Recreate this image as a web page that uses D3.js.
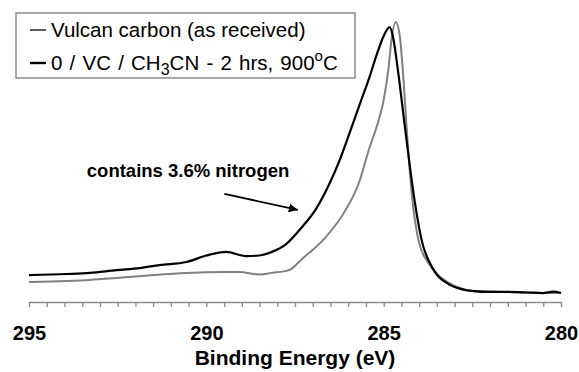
<!DOCTYPE html>
<html>
<head>
<meta charset="utf-8">
<script src="https://cdn.jsdelivr.net/npm/d3@7"></script>
<style>
  body { margin: 0; background: #fff; }
  svg { display: block; font-family: "Liberation Sans", Arial, sans-serif; }
</style>
</head>
<body>
<div id="chart"></div>
<script>
// Binding energy (eV) / intensity (a.u.)
const vcEnergy = [295.0, 293.93, 293.28, 292.53, 291.8, 290.56, 289.44, 289.07, 288.51, 288.15, 287.67, 287.3,
  286.63, 286.07, 285.7, 285.42, 285.14, 285.0, 284.86, 284.78, 284.66, 284.55, 284.44, 284.33, 284.19,
  284.02, 283.74, 283.46, 283.17, 282.75, 282.33, 281.5, 280.5, 280.0];
const vcIntensity = [7.1, 7.5, 7.9, 8.6, 9.3, 10.4, 10.7, 10.7, 9.8, 10.4, 11.4, 15.4,
  23.2, 32.9, 42.5, 54.3, 65.0, 72.1, 83.9, 93.6, 100, 95.4, 79.3, 57.9, 36.4,
  22.1, 13.9, 9.6, 6.8, 4.6, 3.9, 3.6, 3.2, 3.2];

const nEnergy = [295.0, 293.93, 293.28, 292.53, 291.88, 291.32, 290.56, 290.0, 289.44, 288.88, 288.51, 288.15,
  287.75, 287.3, 286.91, 286.52, 286.24, 285.96, 285.68, 285.39, 285.17, 285.0, 284.83, 284.73, 284.61,
  284.38, 284.13, 283.93, 283.62, 283.17, 282.81, 282.47, 282.05, 281.49, 280.93, 280.51, 280.22, 280.0];
const nIntensity = [9.6, 10.0, 10.4, 11.4, 12.1, 13.2, 14.3, 16.6, 17.9, 16.4, 16.6, 17.9,
  20.7, 26.8, 33.2, 42.5, 50.7, 60.4, 70.4, 80.7, 89.3, 95.0, 98.2, 94.3, 83.9,
  60.4, 36.4, 22.1, 12.1, 6.4, 4.6, 3.9, 3.6, 3.6, 3.4, 3.2, 3.7, 3.2];

const tickValues = d3.range(0, 31).map(i => 295 - i * 0.5);
const labelValues = [295, 290, 285, 280];

const noteText = 'contains 3.6% nitrogen';
const notePos = [293.37, 44.6];
const arrowFrom = [289.49, 38.6];
const arrowTo = [287.42, 32.9];

const width = 579, height = 372;
const margin = {left: 29, right: 18, top: 22, axis: 302};

const svg = d3.select('#chart').append('svg')
  .attr('width', width)
  .attr('height', height);

const x = d3.scaleLinear().domain([295, 280]).range([margin.left, width - margin.right]);
const y = d3.scaleLinear().domain([0, 100]).range([margin.axis, margin.top]);

// x axis
const xAxis = d3.axisBottom(x)
  .tickValues(tickValues)
  .tickSize(5)
  .tickSizeOuter(0)
  .tickPadding(19)
  .tickFormat(d => labelValues.includes(d) ? d3.format('d')(d) : '');

const gx = svg.append('g')
  .attr('class', 'axis axis--x')
  .attr('transform', 'translate(' + [0, margin.axis] + ')')
  .call(xAxis);
gx.select('.domain').attr('stroke', '#8a8a8a').attr('stroke-width', 1.5);
gx.selectAll('.tick line').attr('stroke', '#8a8a8a').attr('stroke-width', 1.3);
gx.selectAll('.tick text')
  .attr('fill', '#000')
  .style('font-size', '20px')
  .style('font-weight', 'bold');

svg.append('text')
  .attr('x', (x(295) + x(280)) / 2)
  .attr('y', 365)
  .attr('text-anchor', 'middle')
  .style('font-size', '21px')
  .style('font-weight', 'bold')
  .text('Binding Energy (eV)');

// curves
const line = d3.line()
  .x(d => x(d[0]))
  .y(d => y(d[1]))
  .curve(d3.curveMonotoneX);

svg.append('path')
  .datum(vcEnergy.map((e, i) => [e, vcIntensity[i]]))
  .attr('fill', 'none')
  .attr('stroke', '#808080')
  .attr('stroke-width', 2)
  .attr('d', line);

svg.append('path')
  .datum(nEnergy.map((e, i) => [e, nIntensity[i]]))
  .attr('fill', 'none')
  .attr('stroke', '#000')
  .attr('stroke-width', 2.2)
  .attr('d', line);

// annotation
svg.append('defs').append('marker')
  .attr('id', 'arrow')
  .attr('viewBox', '0 0 10 10')
  .attr('refX', 10).attr('refY', 5)
  .attr('markerWidth', 5).attr('markerHeight', 5)
  .attr('orient', 'auto')
  .append('path')
  .attr('d', 'M0,0L10,5L0,10z')
  .attr('fill', '#000');

svg.append('text')
  .attr('x', x(notePos[0]))
  .attr('y', y(notePos[1]))
  .style('font-size', '18.5px')
  .style('font-weight', 'bold')
  .text(noteText);

svg.append('line')
  .attr('x1', x(arrowFrom[0])).attr('y1', y(arrowFrom[1]))
  .attr('x2', x(arrowTo[0])).attr('y2', y(arrowTo[1]))
  .attr('stroke', '#000')
  .attr('stroke-width', 1.8)
  .attr('marker-end', 'url(#arrow)');

// legend
const legend = svg.append('g').attr('class', 'legend');
legend.append('rect')
  .attr('x', 16).attr('y', 13)
  .attr('width', 339).attr('height', 65)
  .attr('fill', '#fff')
  .attr('stroke', '#8a8a8a')
  .attr('stroke-width', 1.5);

legend.append('line')
  .attr('x1', 30).attr('x2', 46).attr('y1', 30).attr('y2', 30)
  .attr('stroke', '#333').attr('stroke-width', 1.6);
legend.append('line')
  .attr('x1', 30).attr('x2', 46).attr('y1', 63).attr('y2', 63)
  .attr('stroke', '#000').attr('stroke-width', 2.4);

legend.append('text')
  .attr('x', 51).attr('y', 37)
  .style('font-size', '20.5px')
  .text('Vulcan carbon (as received)');

const t2 = legend.append('text')
  .attr('x', 51).attr('y', 70)
  .style('font-size', '20.5px')
  .style('word-spacing', '1.5px');
t2.append('tspan').text('0 / VC / CH');
t2.append('tspan').attr('dy', 5).style('font-size', '16px').text('3');
t2.append('tspan').attr('dy', -5).text('CN - 2 hrs, 900');
t2.append('tspan').attr('dy', -9).style('font-size', '15px').text('o');
t2.append('tspan').attr('dy', 9).text('C');
</script>
</body>
</html>
